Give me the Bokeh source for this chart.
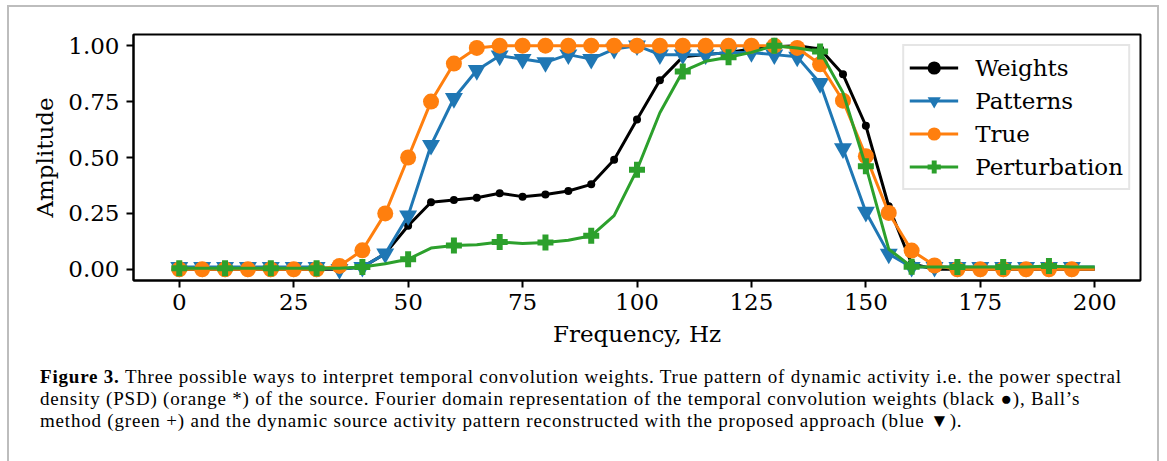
from bokeh.plotting import figure
from bokeh.layouts import column
from bokeh.models import Range1d, FixedTicker, NumeralTickFormatter, Div
from bokeh.embed import file_html
from bokeh.resources import INLINE

# Frequency grid (Hz)
freq = list(range(0, 205, 5))

# Fourier-domain amplitude of the temporal convolution weights
weights = [0.0, 0.0, 0.0, 0.0, 0.0, 0.0, 0.0, 0.0,
           0.01, 0.07, 0.195, 0.30, 0.31, 0.32, 0.34, 0.325, 0.335, 0.35, 0.38,
           0.49, 0.67, 0.845, 0.95, 0.96, 0.97, 0.985, 0.995, 1.0, 0.985,
           0.872, 0.642, 0.282, 0.025,
           0.0, 0.0, 0.0, 0.0, 0.0, 0.0, 0.0, 0.0]

# Reconstructed activity pattern (proposed approach)
patterns = [0.01, 0.01, 0.01, 0.01, 0.01, 0.01, 0.01, 0.0,
            0.01, 0.07, 0.24, 0.555, 0.765, 0.89, 0.955, 0.94, 0.925, 0.96,
            0.94, 0.985, 1.0,
            0.96, 0.96, 0.96, 0.97, 0.97, 0.96, 0.95, 0.832, 0.54, 0.256, 0.069, 0.01,
            0.01, 0.01, 0.01, 0.01, 0.01, 0.01, 0.01, 0.01]

# True power spectral density of the source
true_psd = [0.0, 0.0, 0.0, 0.0, 0.0, 0.0, 0.0,
            0.015, 0.085, 0.25, 0.5, 0.75, 0.92, 0.99,
            1.0, 1.0, 1.0, 1.0, 1.0, 1.0, 1.0, 1.0, 1.0, 1.0, 1.0, 1.0, 1.0,
            0.99, 0.917, 0.754, 0.506, 0.252, 0.084, 0.017,
            0.0, 0.0, 0.0, 0.0, 0.0, 0.0, 0.0]

# Ball's perturbation method
perturbation = [0.005, 0.005, 0.005, 0.005, 0.005, 0.005, 0.005, 0.005,
                0.01, 0.025, 0.045, 0.095, 0.107, 0.11, 0.122, 0.115, 0.12, 0.13,
                0.15, 0.24, 0.445, 0.70, 0.885, 0.93, 0.948, 0.97, 1.0, 0.99,
                0.974, 0.79, 0.461, 0.09, 0.012,
                0.01, 0.01, 0.01, 0.01, 0.01, 0.015, 0.01, 0.01]

x_ticks = [0, 25, 50, 75, 100, 125, 150, 175, 200]
y_ticks = [0.0, 0.25, 0.5, 0.75, 1.0]

caption_head = "Figure 3."
caption_lines = [
    "Three possible ways to interpret temporal convolution weights. True pattern of dynamic activity i.e. the power spectral",
    "density (PSD) (orange *) of the source. Fourier domain representation of the temporal convolution weights (black \u25cf), Ball\u2019s",
    "method (green +) and the dynamic source activity pattern reconstructed with the proposed approach (blue \u25bc).",
]

SERIF = "DejaVu Serif"
CAPTION_FONT = "Liberation Serif"

# page geometry (pixels)
CONTENT_W = 1148
CHART_H = 355
CAPTION_H = 110

p = figure(width=CONTENT_W, height=CHART_H, output_backend="svg", toolbar_location=None,
           x_range=Range1d(-10, 210), y_range=Range1d(-0.05, 1.05),
           min_border_left=124, min_border_right=17, min_border_top=27,
           min_border_bottom=82, background_fill_color="white",
           border_fill_color="white")

p.xgrid.visible = False
p.ygrid.visible = False
p.outline_line_color = "black"
p.outline_line_width = 2
p.outline_line_alpha = 1.0

series = [
    ("Weights", weights, "black", "circle", 8, 5),
    ("Patterns", patterns, "#1f77b4", "inverted_triangle", 18, 5),
    ("True", true_psd, "#ff7f0e", "circle", 16, 5),
    ("Perturbation", perturbation, "#2ca02c", "plus", 16, 10),
]

for name, vals, color, marker, size, step in series:
    p.line(freq, vals, line_color=color, line_width=3, legend_label=name)
    mx = [f for f in freq if f % step == 0 and f < 200]
    my = [v for f, v in zip(freq, vals) if f % step == 0 and f < 200]
    p.scatter(mx, my, marker=marker, size=size, fill_color=color,
              line_color=color, line_width=0, legend_label=name)

for ax in (p.xaxis[0], p.yaxis[0]):
    ax.axis_line_color = "black"
    ax.axis_line_width = 2
    ax.major_tick_line_color = "black"
    ax.major_tick_line_width = 2
    ax.major_tick_out = 7
    ax.major_tick_in = 0
    ax.minor_tick_line_color = None
    ax.major_label_text_font = SERIF
    ax.major_label_text_font_size = "23px"
    ax.major_label_text_color = "black"
    ax.axis_label_text_font = SERIF
    ax.axis_label_text_font_size = "23px"
    ax.axis_label_text_font_style = "normal"
    ax.axis_label_text_color = "black"

p.xaxis[0].ticker = FixedTicker(ticks=x_ticks)
p.yaxis[0].ticker = FixedTicker(ticks=y_ticks)
p.yaxis[0].formatter = NumeralTickFormatter(format="0.00")
p.xaxis[0].axis_label = "Frequency, Hz"
p.yaxis[0].axis_label = "Amplitude"
p.xaxis[0].major_label_standoff = 6
p.yaxis[0].major_label_standoff = 7
p.xaxis[0].axis_label_standoff = 8
p.yaxis[0].axis_label_standoff = 7

lg = p.legend[0]
lg.location = "top_right"
lg.margin = 10
lg.padding = 5
lg.spacing = 0
lg.glyph_width = 49
lg.glyph_height = 33
lg.label_height = 33
lg.label_standoff = 17
lg.label_text_font = SERIF
lg.label_text_font_size = "23px"
lg.label_text_color = "black"
lg.border_line_color = "#cccccc"
lg.border_line_width = 2
lg.background_fill_alpha = 0.9

# figure caption
caption_html = (
    '<div style="font-family: \'%s\', serif; font-size: 19px; line-height: 22px; '
    'letter-spacing: 0.8px; color: black; white-space: nowrap; '
    'padding-left: 31px; padding-top: 4px;">'
    '<b>%s</b> %s<br>%s<br>%s</div>'
    % (CAPTION_FONT, caption_head, caption_lines[0], caption_lines[1], caption_lines[2])
)
cap = Div(text=caption_html, width=CONTENT_W, height=CAPTION_H, margin=0)

page = column(p, cap, spacing=0, margin=(5, 0, 0, 7),
              styles={"border-top": "2px solid #bdbdbd",
                      "border-left": "2px solid #bdbdbd",
                      "border-right": "2px solid #bdbdbd"})

open("out.html", "w").write(file_html(page, INLINE))
